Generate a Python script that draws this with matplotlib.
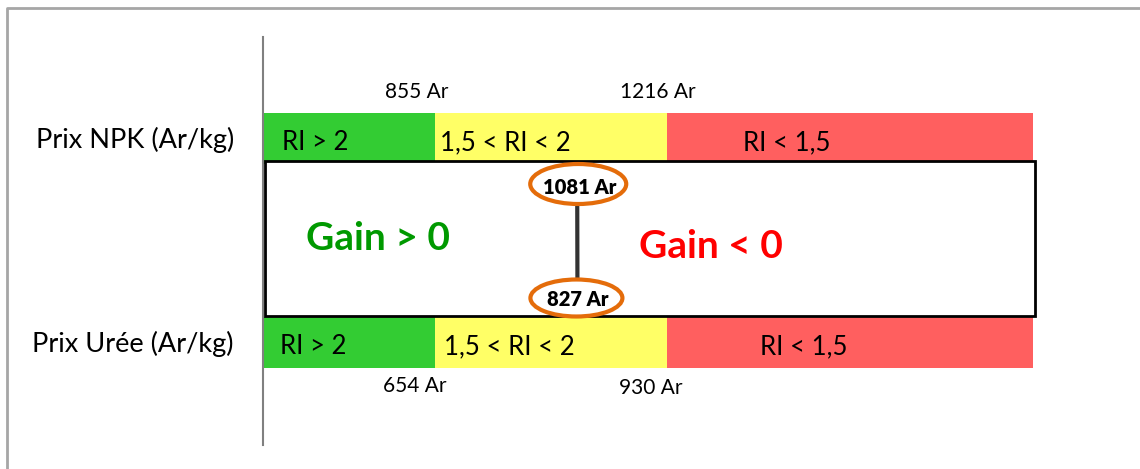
import matplotlib
matplotlib.use("Agg")
import matplotlib.pyplot as plt
from matplotlib.patches import Rectangle, Ellipse
import numpy as np

# ---- data ----
rows = ["Prix NPK (Ar/kg)", "Prix Urée (Ar/kg)"]
zone_labels_npk = ["RI > 2", "1,5 < RI < 2", "RI < 1,5"]
zone_labels_uree = ["RI > 2", "1,5 < RI < 2", "RI < 1,5"]
thresholds_npk = [855, 1216]
thresholds_uree = [654, 930]
observed_npk = 1081
observed_uree = 827
gain_labels = ["Gain > 0", "Gain < 0"]

# ---- layout (pixel coordinates) ----
W, H = 1140, 469
FONT = ["Lato", "DejaVu Sans"]
zone_colors = ["#33CC33", "#FFFF66", "#FF5F5F"]
bounds = [263, 435, 667, 1033]          # zone edges
npk_y, uree_y, bar_h = 113, 317, 51

fig = plt.figure(figsize=(W / 100, H / 100), dpi=100)
ax = fig.add_axes([0, 0, 1, 1])
ax.set_xlim(0, W)
ax.set_ylim(H, 0)
ax.axis("off")

# outer frame
ax.plot([7, 7, W + 5], [H + 5, 8, 8], color="#A6A6A6", lw=2, solid_capstyle="butt")
# vertical axis
ax.plot([263, 263], [37, 445], color="#808080", lw=1.5)

def price_to_x(p, thr):
    return np.interp(p, thr, bounds[1:3])

for y0, labels, label_x in [(npk_y, zone_labels_npk, [282, 440, 743]),
                            (uree_y, zone_labels_uree, [280, 444, 760])]:
    for i in range(3):
        ax.add_patch(Rectangle((bounds[i], y0), bounds[i + 1] - bounds[i], bar_h,
                               facecolor=zone_colors[i], edgecolor="none", zorder=1))
        ax.text(label_x[i], y0 + bar_h * 0.58, labels[i], fontsize=18.5, family=FONT,
                ha="left", va="center", zorder=3)

# row labels
ax.text(234, npk_y + bar_h * 0.52, rows[0], fontsize=19.5, family=FONT, ha="right", va="center")
ax.text(234, uree_y + bar_h * 0.52, rows[1], fontsize=19.5, family=FONT, ha="right", va="center")

# threshold labels
ax.text(bounds[1] - 18, 92, f"{thresholds_npk[0]} Ar", fontsize=15, family=FONT, ha="center", va="center")
ax.text(bounds[2] - 9, 92, f"{thresholds_npk[1]} Ar", fontsize=15, family=FONT, ha="center", va="center")
ax.text(bounds[1] - 20, 386, f"{thresholds_uree[0]} Ar", fontsize=15, family=FONT, ha="center", va="center")
ax.text(bounds[2] - 16, 388, f"{thresholds_uree[1]} Ar", fontsize=15, family=FONT, ha="center", va="center")

# central box
ax.add_patch(Rectangle((265, 161), 770, 155, facecolor="white", edgecolor="black",
                       lw=2, zorder=2))

# gain labels
ax.text(378, 238, gain_labels[0], fontsize=28, family=FONT, weight="bold",
        color="#009900", ha="center", va="center", zorder=3)
ax.text(711, 246, gain_labels[1], fontsize=28, family=FONT, weight="bold",
        color="#FF0000", ha="center", va="center", zorder=3)

# observed prices
x_npk = price_to_x(observed_npk, thresholds_npk)
x_uree = price_to_x(observed_uree, thresholds_uree)
ax.plot([x_npk - 3, x_uree - 3], [204, 278], color="#333333", lw=3, zorder=3)
ax.add_patch(Ellipse((x_npk - 2, 184), 96, 40, facecolor="white", edgecolor="#E46C0A",
                     lw=3, zorder=4))
ax.add_patch(Ellipse((x_uree - 4, 298), 92, 37, facecolor="white", edgecolor="#E46C0A",
                     lw=3, zorder=4))
ax.text(x_npk - 1, 187, f"{observed_npk} Ar", fontsize=14.5, family=FONT, weight="heavy",
        ha="center", va="center", zorder=5)
ax.text(x_uree - 3, 299, f"{observed_uree} Ar", fontsize=14.5, family=FONT, weight="heavy",
        ha="center", va="center", zorder=5)

fig.savefig("out.png", dpi=100)
